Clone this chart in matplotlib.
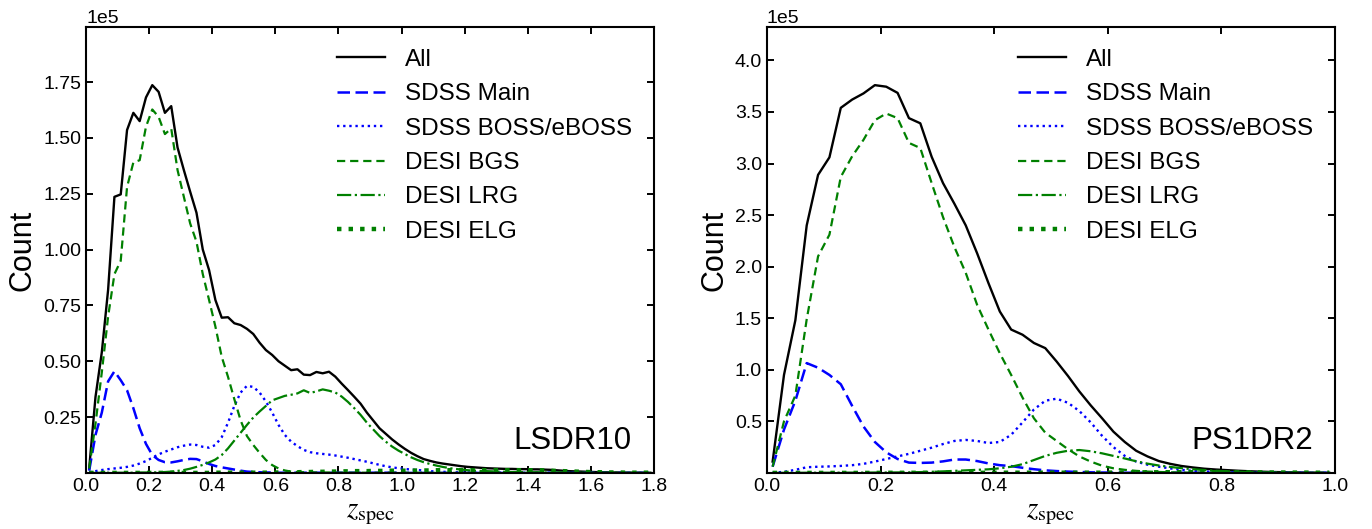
import numpy as np
import matplotlib
matplotlib.use("Agg")
import matplotlib.pyplot as plt

plt.rcParams["font.family"] = ["Liberation Sans", "DejaVu Sans"]
plt.rcParams["mathtext.fontset"] = "stix"

SCALE = 1e5  # values below are in units of 1e5 counts

# ---- LSDR10: bin centres 0.01 ... 1.79 (width 0.02)
z_ls = np.arange(0.01, 1.8, 0.02)
all_ls = [0.02, 0.34, 0.54, 0.82, 1.236, 1.247, 1.535, 1.612, 1.575, 1.681,
          1.736, 1.706, 1.612, 1.642, 1.457, 1.356, 1.259, 1.165, 1.000, 0.908,
          0.774, 0.695, 0.697, 0.670, 0.662, 0.645, 0.622, 0.583, 0.550, 0.528,
          0.500, 0.480, 0.460, 0.464, 0.440, 0.438, 0.452, 0.446, 0.453, 0.431,
          0.400, 0.371, 0.341, 0.310, 0.270, 0.235, 0.200, 0.175, 0.150, 0.128,
          0.108, 0.090, 0.075, 0.062, 0.054, 0.047, 0.042, 0.038, 0.034, 0.030,
          0.027, 0.025, 0.023, 0.021, 0.020, 0.019, 0.018, 0.018, 0.017, 0.017,
          0.016, 0.016, 0.015, 0.014, 0.012, 0.010, 0.008, 0.007, 0.006, 0.005,
          0.004, 0.003, 0.003, 0.002, 0.002, 0.001, 0.001, 0.001, 0.001, 0.000]
main_ls = [0.010, 0.170, 0.270, 0.410, 0.455, 0.415, 0.370, 0.290, 0.200, 0.130,
           0.080, 0.058, 0.048, 0.047, 0.052, 0.058, 0.063, 0.062, 0.052, 0.040,
           0.031, 0.025, 0.020, 0.015, 0.010, 0.006, 0.004, 0.003, 0.002, 0.002,
           0.001, 0.001, 0.001, 0.001, 0.001, 0.001, 0.001, 0.001, 0.001, 0.001,
           0.001, 0.001, 0.001, 0.001, 0.001, 0.001, 0.001, 0.001, 0.001, 0.001,
           0.000, 0.000, 0.000, 0.000, 0.000, 0.000, 0.000, 0.000, 0.000, 0.000,
           0.000, 0.000, 0.000, 0.000, 0.000, 0.000, 0.000, 0.000, 0.000, 0.000,
           0.000, 0.000, 0.000, 0.000, 0.000, 0.000, 0.000, 0.000, 0.000, 0.000,
           0.000, 0.000, 0.000, 0.000, 0.000, 0.000, 0.000, 0.000, 0.000, 0.000]
boss_ls = [0.003, 0.008, 0.013, 0.017, 0.020, 0.023, 0.027, 0.033, 0.042, 0.053,
           0.068, 0.083, 0.095, 0.105, 0.115, 0.122, 0.127, 0.125, 0.117, 0.113,
           0.125, 0.160, 0.225, 0.300, 0.360, 0.390, 0.385, 0.360, 0.320, 0.270,
           0.215, 0.170, 0.140, 0.120, 0.103, 0.093, 0.088, 0.085, 0.082, 0.078,
           0.073, 0.068, 0.062, 0.056, 0.050, 0.043, 0.036, 0.030, 0.025, 0.021,
           0.018, 0.015, 0.013, 0.011, 0.008, 0.006, 0.005, 0.004, 0.003, 0.002,
           0.002, 0.002, 0.001, 0.001, 0.001, 0.001, 0.001, 0.001, 0.001, 0.001,
           0.001, 0.001, 0.001, 0.001, 0.000, 0.000, 0.000, 0.000, 0.000, 0.000,
           0.000, 0.000, 0.000, 0.000, 0.000, 0.000, 0.000, 0.000, 0.000, 0.000]
bgs_ls = [0.020, 0.220, 0.450, 0.700, 0.890, 0.950, 1.280, 1.390, 1.400, 1.550,
          1.627, 1.594, 1.517, 1.542, 1.356, 1.236, 1.117, 1.035, 0.890, 0.774,
          0.655, 0.520, 0.430, 0.330, 0.235, 0.165, 0.125, 0.090, 0.058, 0.035,
          0.020, 0.011, 0.006, 0.004, 0.003, 0.003, 0.002, 0.002, 0.002, 0.001,
          0.001, 0.001, 0.001, 0.001, 0.001, 0.001, 0.001, 0.001, 0.001, 0.001,
          0.001, 0.001, 0.001, 0.001, 0.001, 0.000, 0.000, 0.000, 0.000, 0.000,
          0.000, 0.000, 0.000, 0.000, 0.000, 0.000, 0.000, 0.000, 0.000, 0.000,
          0.000, 0.000, 0.000, 0.000, 0.000, 0.000, 0.000, 0.000, 0.000, 0.000,
          0.000, 0.000, 0.000, 0.000, 0.000, 0.000, 0.000, 0.000, 0.000, 0.000]
lrg_ls = [0.000, 0.000, 0.001, 0.001, 0.001, 0.001, 0.001, 0.001, 0.002, 0.002,
          0.002, 0.003, 0.004, 0.006, 0.009, 0.013, 0.019, 0.027, 0.036, 0.047,
          0.060, 0.080, 0.110, 0.145, 0.180, 0.215, 0.248, 0.275, 0.300, 0.325,
          0.335, 0.345, 0.350, 0.356, 0.370, 0.358, 0.365, 0.374, 0.368, 0.360,
          0.342, 0.318, 0.290, 0.260, 0.225, 0.195, 0.165, 0.140, 0.118, 0.100,
          0.085, 0.070, 0.058, 0.048, 0.040, 0.033, 0.027, 0.022, 0.018, 0.015,
          0.012, 0.010, 0.009, 0.008, 0.007, 0.006, 0.005, 0.004, 0.004, 0.003,
          0.003, 0.003, 0.002, 0.002, 0.002, 0.002, 0.001, 0.001, 0.001, 0.001,
          0.001, 0.001, 0.001, 0.001, 0.001, 0.000, 0.000, 0.000, 0.000, 0.000]
elg_ls = [0.000, 0.000, 0.000, 0.000, 0.000, 0.000, 0.000, 0.000, 0.000, 0.000,
          0.000, 0.000, 0.000, 0.000, 0.000, 0.000, 0.000, 0.000, 0.000, 0.000,
          0.001, 0.001, 0.001, 0.001, 0.001, 0.001, 0.001, 0.001, 0.001, 0.001,
          0.002, 0.002, 0.003, 0.003, 0.004, 0.004, 0.005, 0.005, 0.006, 0.006,
          0.007, 0.007, 0.008, 0.008, 0.008, 0.009, 0.009, 0.009, 0.010, 0.010,
          0.010, 0.010, 0.011, 0.011, 0.011, 0.012, 0.012, 0.012, 0.012, 0.012,
          0.012, 0.012, 0.012, 0.012, 0.012, 0.012, 0.012, 0.012, 0.012, 0.012,
          0.012, 0.012, 0.011, 0.010, 0.009, 0.008, 0.007, 0.006, 0.005, 0.004,
          0.003, 0.003, 0.002, 0.002, 0.002, 0.001, 0.001, 0.001, 0.001, 0.001]

# ---- PS1DR2: bin centres 0.01 ... 0.99 (width 0.02)
z_ps = np.arange(0.01, 1.0, 0.02)
all_ps = [0.11, 0.95, 1.48, 2.40, 2.89, 3.06, 3.54, 3.62, 3.68, 3.76,
          3.745, 3.685, 3.44, 3.39, 3.065, 2.81, 2.61, 2.40, 2.13, 1.84,
          1.565, 1.39, 1.34, 1.26, 1.21, 1.08, 0.94, 0.79, 0.655, 0.53,
          0.40, 0.30, 0.215, 0.16, 0.115, 0.088, 0.067, 0.053, 0.041, 0.033,
          0.027, 0.021, 0.016, 0.012, 0.009, 0.007, 0.005, 0.003, 0.002, 0.001]
main_ps = [0.06, 0.42, 0.70, 1.065, 1.02, 0.95, 0.86, 0.65, 0.45, 0.30,
           0.20, 0.135, 0.10, 0.097, 0.10, 0.112, 0.13, 0.13, 0.115, 0.092,
           0.075, 0.066, 0.05, 0.036, 0.025, 0.018, 0.013, 0.009, 0.006, 0.004,
           0.003, 0.002, 0.002, 0.002, 0.002, 0.001, 0.001, 0.001, 0.001, 0.001,
           0.001, 0.001, 0.001, 0.000, 0.000, 0.000, 0.000, 0.000, 0.000, 0.000]
boss_ps = [0.003, 0.010, 0.030, 0.055, 0.060, 0.063, 0.068, 0.075, 0.088, 0.110,
           0.135, 0.160, 0.185, 0.215, 0.245, 0.280, 0.310, 0.320, 0.310, 0.290,
           0.300, 0.370, 0.490, 0.615, 0.700, 0.720, 0.680, 0.600, 0.490, 0.360,
           0.250, 0.165, 0.110, 0.080, 0.060, 0.044, 0.030, 0.020, 0.014, 0.009,
           0.006, 0.004, 0.003, 0.002, 0.002, 0.001, 0.001, 0.001, 0.001, 0.000]
bgs_ps = [0.06, 0.50, 0.75, 1.49, 2.10, 2.31, 2.87, 3.07, 3.23, 3.42,
          3.485, 3.44, 3.20, 3.15, 2.81, 2.48, 2.19, 1.94, 1.63, 1.39,
          1.16, 0.95, 0.73, 0.53, 0.39, 0.31, 0.23, 0.16, 0.11, 0.07,
          0.045, 0.03, 0.02, 0.013, 0.009, 0.006, 0.004, 0.003, 0.002, 0.002,
          0.001, 0.001, 0.001, 0.001, 0.001, 0.000, 0.000, 0.000, 0.000, 0.000]
lrg_ps = [0.000, 0.001, 0.001, 0.002, 0.002, 0.002, 0.003, 0.003, 0.003, 0.004,
          0.004, 0.005, 0.006, 0.008, 0.011, 0.015, 0.020, 0.025, 0.030, 0.035,
          0.045, 0.060, 0.085, 0.125, 0.165, 0.195, 0.215, 0.222, 0.210, 0.190,
          0.165, 0.140, 0.113, 0.090, 0.072, 0.058, 0.046, 0.036, 0.028, 0.021,
          0.016, 0.012, 0.008, 0.006, 0.004, 0.003, 0.002, 0.001, 0.001, 0.001]
elg_ps = [0.000, 0.000, 0.000, 0.000, 0.000, 0.000, 0.000, 0.000, 0.000, 0.000,
          0.001, 0.001, 0.001, 0.001, 0.001, 0.001, 0.001, 0.001, 0.001, 0.001,
          0.002, 0.002, 0.002, 0.002, 0.002, 0.002, 0.002, 0.002, 0.002, 0.002,
          0.003, 0.004, 0.005, 0.006, 0.006, 0.007, 0.007, 0.007, 0.007, 0.007,
          0.006, 0.006, 0.005, 0.005, 0.004, 0.004, 0.003, 0.003, 0.002, 0.002]

labels = ["All", "SDSS Main", "SDSS BOSS/eBOSS", "DESI BGS", "DESI LRG", "DESI ELG"]
styles = [dict(color="black", ls="-", lw=1.7),
          dict(color="blue", ls=(0, (5, 2.2)), lw=1.8),
          dict(color="blue", ls=(0, (1, 1.6)), lw=1.7),
          dict(color="green", ls=(0, (3.7, 2.2)), lw=1.6),
          dict(color="green", ls="-.", lw=1.6),
          dict(color="green", ls=(0, (1, 1.6)), lw=3.2)]

panels = [
    dict(name="LSDR10", z=z_ls, series=[all_ls, main_ls, boss_ls, bgs_ls, lrg_ls, elg_ls],
         xmax=1.8, xticks=np.arange(0, 1.81, 0.2), yticks=np.arange(0.25, 1.76, 0.25),
         rect=[0.0627, 0.106, 0.414, 0.843]),
    dict(name="PS1DR2", z=z_ps, series=[all_ps, main_ps, boss_ps, bgs_ps, lrg_ps, elg_ps],
         xmax=1.0, xticks=np.arange(0, 1.01, 0.2), yticks=np.arange(0.5, 4.01, 0.5),
         rect=[0.559, 0.106, 0.414, 0.843]),
]

fig = plt.figure(figsize=(13.72, 5.29), dpi=100)

for p in panels:
    ax = fig.add_axes(p["rect"])
    for vals, lab, st in zip(p["series"], labels, styles):
        ax.plot(p["z"], np.array(vals) * SCALE, label=lab, **st)
    ymax = max(p["series"][0]) * SCALE * 1.15
    ax.set_xlim(0, p["xmax"])
    ax.set_ylim(0, ymax)
    ax.set_xticks(p["xticks"])
    ax.set_yticks(p["yticks"] * SCALE)
    ax.ticklabel_format(axis="y", style="sci", scilimits=(0, 0))
    ax.yaxis.get_offset_text().set_fontsize(14)
    ax.tick_params(direction="in", top=True, right=True, length=5, width=1.4,
                   labelsize=14)
    for s in ax.spines.values():
        s.set_linewidth(1.5)
    ax.set_xlabel(r"$z_{\rm spec}$", fontsize=21, labelpad=3)
    ax.set_ylabel("Count", fontsize=22)
    ax.legend(loc="upper right", bbox_to_anchor=(0.961, 0.951), frameon=False,
              fontsize=17.5, borderpad=0, borderaxespad=0, labelspacing=0.51,
              handlelength=2.0, handletextpad=0.8)
    ax.text(0.961, 0.054, p["name"], transform=ax.transAxes, ha="right",
            va="baseline", fontsize=22.5)

fig.savefig("out.png", dpi=100)
